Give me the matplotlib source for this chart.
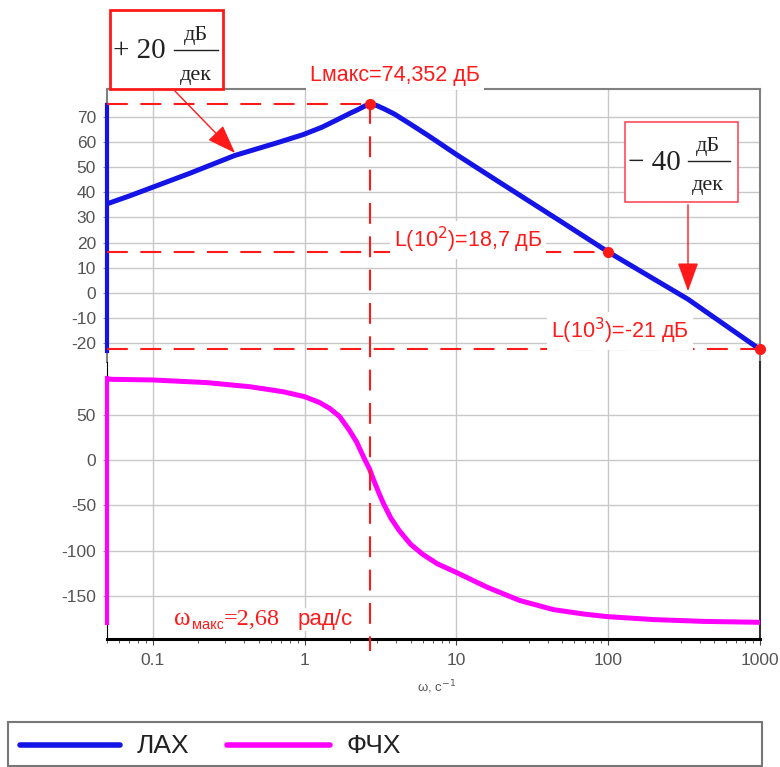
import matplotlib.pyplot as plt
import matplotlib.transforms as mtransforms
from matplotlib.patches import Rectangle, FancyArrowPatch
from matplotlib.lines import Line2D
from matplotlib.ticker import NullFormatter

plt.rcParams['font.family'] = ['Liberation Sans', 'DejaVu Sans']
plt.rcParams['axes.unicode_minus'] = False

W, H = 780, 767

# === values ===
lah_w = [0.05, 0.07, 0.1, 0.175, 0.347, 0.656, 0.98, 1.3, 1.63, 2.0, 2.21, 2.45, 2.68,
         3.0, 3.4, 3.92, 5.0, 6.53, 10, 18.1, 33.3, 50, 100, 336, 1000]
lah_L = [35.4, 38.5, 42.0, 47.5, 54.6, 59.6, 62.9, 65.8, 68.7, 71.4, 72.6, 74.0, 75.2,
         74.4, 72.9, 71.0, 67.0, 62.5, 55.0, 45.0, 34.8, 28.0, 16.3, -2.5, -22.4]
lah_edge = [-23.2, 74.6]     # vertical trace at the left border

fchx_w = [0.05, 0.1, 0.226, 0.434, 0.719, 1.0, 1.25, 1.46, 1.7, 1.97, 2.2, 2.5, 2.68, 2.85,
          3.1, 3.31, 3.7, 4.21, 5.0, 6.0, 7.5, 10, 15.8, 26.2, 43.6, 70, 100, 200, 430, 1000]
fchx_p = [89.0, 88.2, 85.3, 80.8, 75.3, 69.8, 63.5, 57.0, 48.0, 33.0, 20.0, 0.0, -10.0, -22.0,
          -37.0, -48.0, -64.0, -78.0, -93.0, -104.0, -114.5, -124.0, -140.0, -155.0, -165.0,
          -170.0, -172.8, -176.0, -178.0, -179.0]
fchx_edge = [-180, 90]

mark_w = [2.68, 100, 1000]
mark_L = [75.2, 16.3, -22.4]
mark_text = ["Lмакс=74,352 дБ", "L(10$^2$)=18,7 дБ", "L(10$^3$)=-21 дБ"]
w_max = 2.68

xticks = [0.1, 1, 10, 100, 1000]
xtick_labels = ["0.1", "1", "10", "100", "1000"]
lah_ticks = list(range(-20, 80, 10))
fchx_ticks = [-150, -100, -50, 0, 50]

BLUE = "#1414e6"
MAG = "#ff00ff"
RED = "#ff1a1a"
PINK = "#ff4b5c"
GRID = "#c8c8c8"
TXT = "#555555"


def fx(x):
    return x / W


def fy(y):
    return 1 - y / H


fig = plt.figure(figsize=(W / 100, H / 100), dpi=100)
ax1 = fig.add_axes([fx(107), fy(362), fx(760) - fx(107), fy(89) - fy(362)])
ax2 = fig.add_axes([fx(107), fy(639), fx(760) - fx(107), fy(362) - fy(639)])

for ax in (ax1, ax2):
    ax.set_xscale('log')
    ax.set_xlim(0.05, 1000)
    ax.set_xticks(xticks)
    ax.xaxis.set_minor_formatter(NullFormatter())
    ax.grid(True, which='major', color=GRID, lw=1.0)
    ax.set_axisbelow(True)
    ax.tick_params(axis='y', labelsize=12.5, labelcolor=TXT, color='#888888', length=3, pad=5)

ax1.set_ylim(-27.4, 81.0)
ax1.set_yticks(lah_ticks)
ax1.tick_params(axis='x', which='both', bottom=False, labelbottom=False)
ax2.set_ylim(-197.4, 108)
ax2.set_yticks(fchx_ticks)
ax2.set_xticklabels(xtick_labels)
ax2.tick_params(axis='x', which='major', labelsize=12.5, labelcolor=TXT, color='#444444', length=4, pad=6)
ax2.tick_params(axis='x', which='minor', color='#444444', length=3)

for s in ('top', 'right', 'left'):
    ax1.spines[s].set_color('#808080')
    ax1.spines[s].set_linewidth(1.5)
ax1.spines['bottom'].set_visible(False)
ax2.spines['top'].set_visible(False)
ax2.spines['bottom'].set_color('black')
ax2.spines['bottom'].set_linewidth(2.2)
ax2.spines['left'].set_color('black')
ax2.spines['right'].set_color('#333333')
ax2.spines['right'].set_linewidth(1.5)

# curves
ax1.plot(lah_w, lah_L, color=BLUE, lw=3.6, solid_capstyle='round', solid_joinstyle='round', zorder=3)
ax1.plot([lah_w[0], lah_w[0]], lah_edge, color=BLUE, lw=3.0, clip_on=False, zorder=3)
ax2.plot(fchx_w, fchx_p, color=MAG, lw=3.6, solid_capstyle='round', solid_joinstyle='round', zorder=3)
ax2.plot([fchx_w[0], fchx_w[0]], fchx_edge, color=MAG, lw=3.0, clip_on=False, zorder=3)

# dashed marker lines
dash = (10, 6)
for w, L in zip(mark_w, mark_L):
    ax1.plot([0.05, w], [L, L], color=RED, lw=1.5, dashes=dash, clip_on=False, zorder=4)
ax1.plot(mark_w, mark_L, 'o', color=RED, ms=7, clip_on=False, zorder=6)

trans = mtransforms.blended_transform_factory(ax1.transData, fig.transFigure)
fig.add_artist(Line2D([w_max, w_max], [fy(103), fy(651)], transform=trans,
                      color=RED, lw=1.5, dashes=dash, zorder=4))

# value labels
label_pos = [(395, 75), (468, 240), (620, 331)]
for txt, (px, py) in zip(mark_text, label_pos):
    fig.text(fx(px), fy(py), txt, ha='center', va='center', fontsize=15.5, color=RED,
             bbox=dict(facecolor='white', edgecolor='none', pad=3), zorder=7)

serif = ['Liberation Serif', 'DejaVu Serif']
wbox = dict(facecolor='white', edgecolor='none', pad=1)
fig.text(fx(174), fy(625), "ω", ha='left', va='baseline', fontsize=18, color=RED,
         family=serif, bbox=wbox, zorder=7)
fig.text(fx(192), fy(629), "макс", ha='left', va='baseline', fontsize=10.5, color=RED,
         bbox=wbox, zorder=7)
fig.text(fx(224), fy(625), "=2,68", ha='left', va='baseline', fontsize=17.5, color=RED,
         family=serif, bbox=wbox, zorder=7)
fig.text(fx(298), fy(625), "рад/с", ha='left', va='baseline', fontsize=16, color=RED,
         bbox=wbox, zorder=7)

fig.text(fx(437), fy(687), "ω, с$^{-1}$", ha='center', va='center', fontsize=9.5, color=TXT)


# slope boxes with a fraction inside
def slope_box(x0, y0, x1, y1, ec, lw, lead, lead_x, base, num_x, num_base, bar, den_base):
    fig.add_artist(Rectangle((fx(x0), fy(y1)), fx(x1) - fx(x0), fy(y0) - fy(y1),
                             transform=fig.transFigure, facecolor='white', edgecolor=ec,
                             lw=lw, zorder=8))
    fig.text(fx(lead_x), fy(base), lead, ha='left', va='baseline', fontsize=21,
             color='#222222', family=serif, zorder=9)
    fig.text(fx(num_x), fy(num_base), "дБ", ha='center', va='baseline', fontsize=16,
             color='#222222', family=serif, zorder=9)
    fig.add_artist(Line2D([fx(bar[0]), fx(bar[1])], [fy(bar[2]), fy(bar[2])],
                          transform=fig.transFigure, color='#222222', lw=1.0, zorder=9))
    fig.text(fx(num_x), fy(den_base), "дек", ha='center', va='baseline', fontsize=16,
             color='#222222', family=serif, zorder=9)


slope_box(110, 10, 223, 89, RED, 2.0, "+ 20", 113, 58, 196, 40, (174, 218, 50), 80)
slope_box(625, 122, 738, 202, PINK, 1.2, "− 40", 628, 170, 708, 151, (688, 730, 161), 190)

for (xa, ya), (xb, yb) in [((173, 89), (237, 155)), ((688, 202), (688, 294))]:
    fig.add_artist(FancyArrowPatch((fx(xa), fy(ya)), (fx(xb), fy(yb)), transform=fig.transFigure,
                                   arrowstyle='-|>,head_length=1.8,head_width=0.65',
                                   mutation_scale=10, color=RED, lw=1.0, zorder=8))

# legend
fig.add_artist(Rectangle((fx(8), fy(766)), fx(762) - fx(8), fy(722) - fy(766),
                         transform=fig.transFigure, facecolor='white', edgecolor='#777777', lw=1.5))
for (xa, xb), col, name, tx in [((20, 120), BLUE, "ЛАХ", 137), ((227, 330), MAG, "ФЧХ", 347)]:
    fig.add_artist(Line2D([fx(xa), fx(xb)], [fy(745), fy(745)], transform=fig.transFigure,
                          color=col, lw=4.0, solid_capstyle='round'))
    fig.text(fx(tx), fy(746), name, ha='left', va='center', fontsize=19, color='#222222')

fig.savefig("out.png", dpi=100)
